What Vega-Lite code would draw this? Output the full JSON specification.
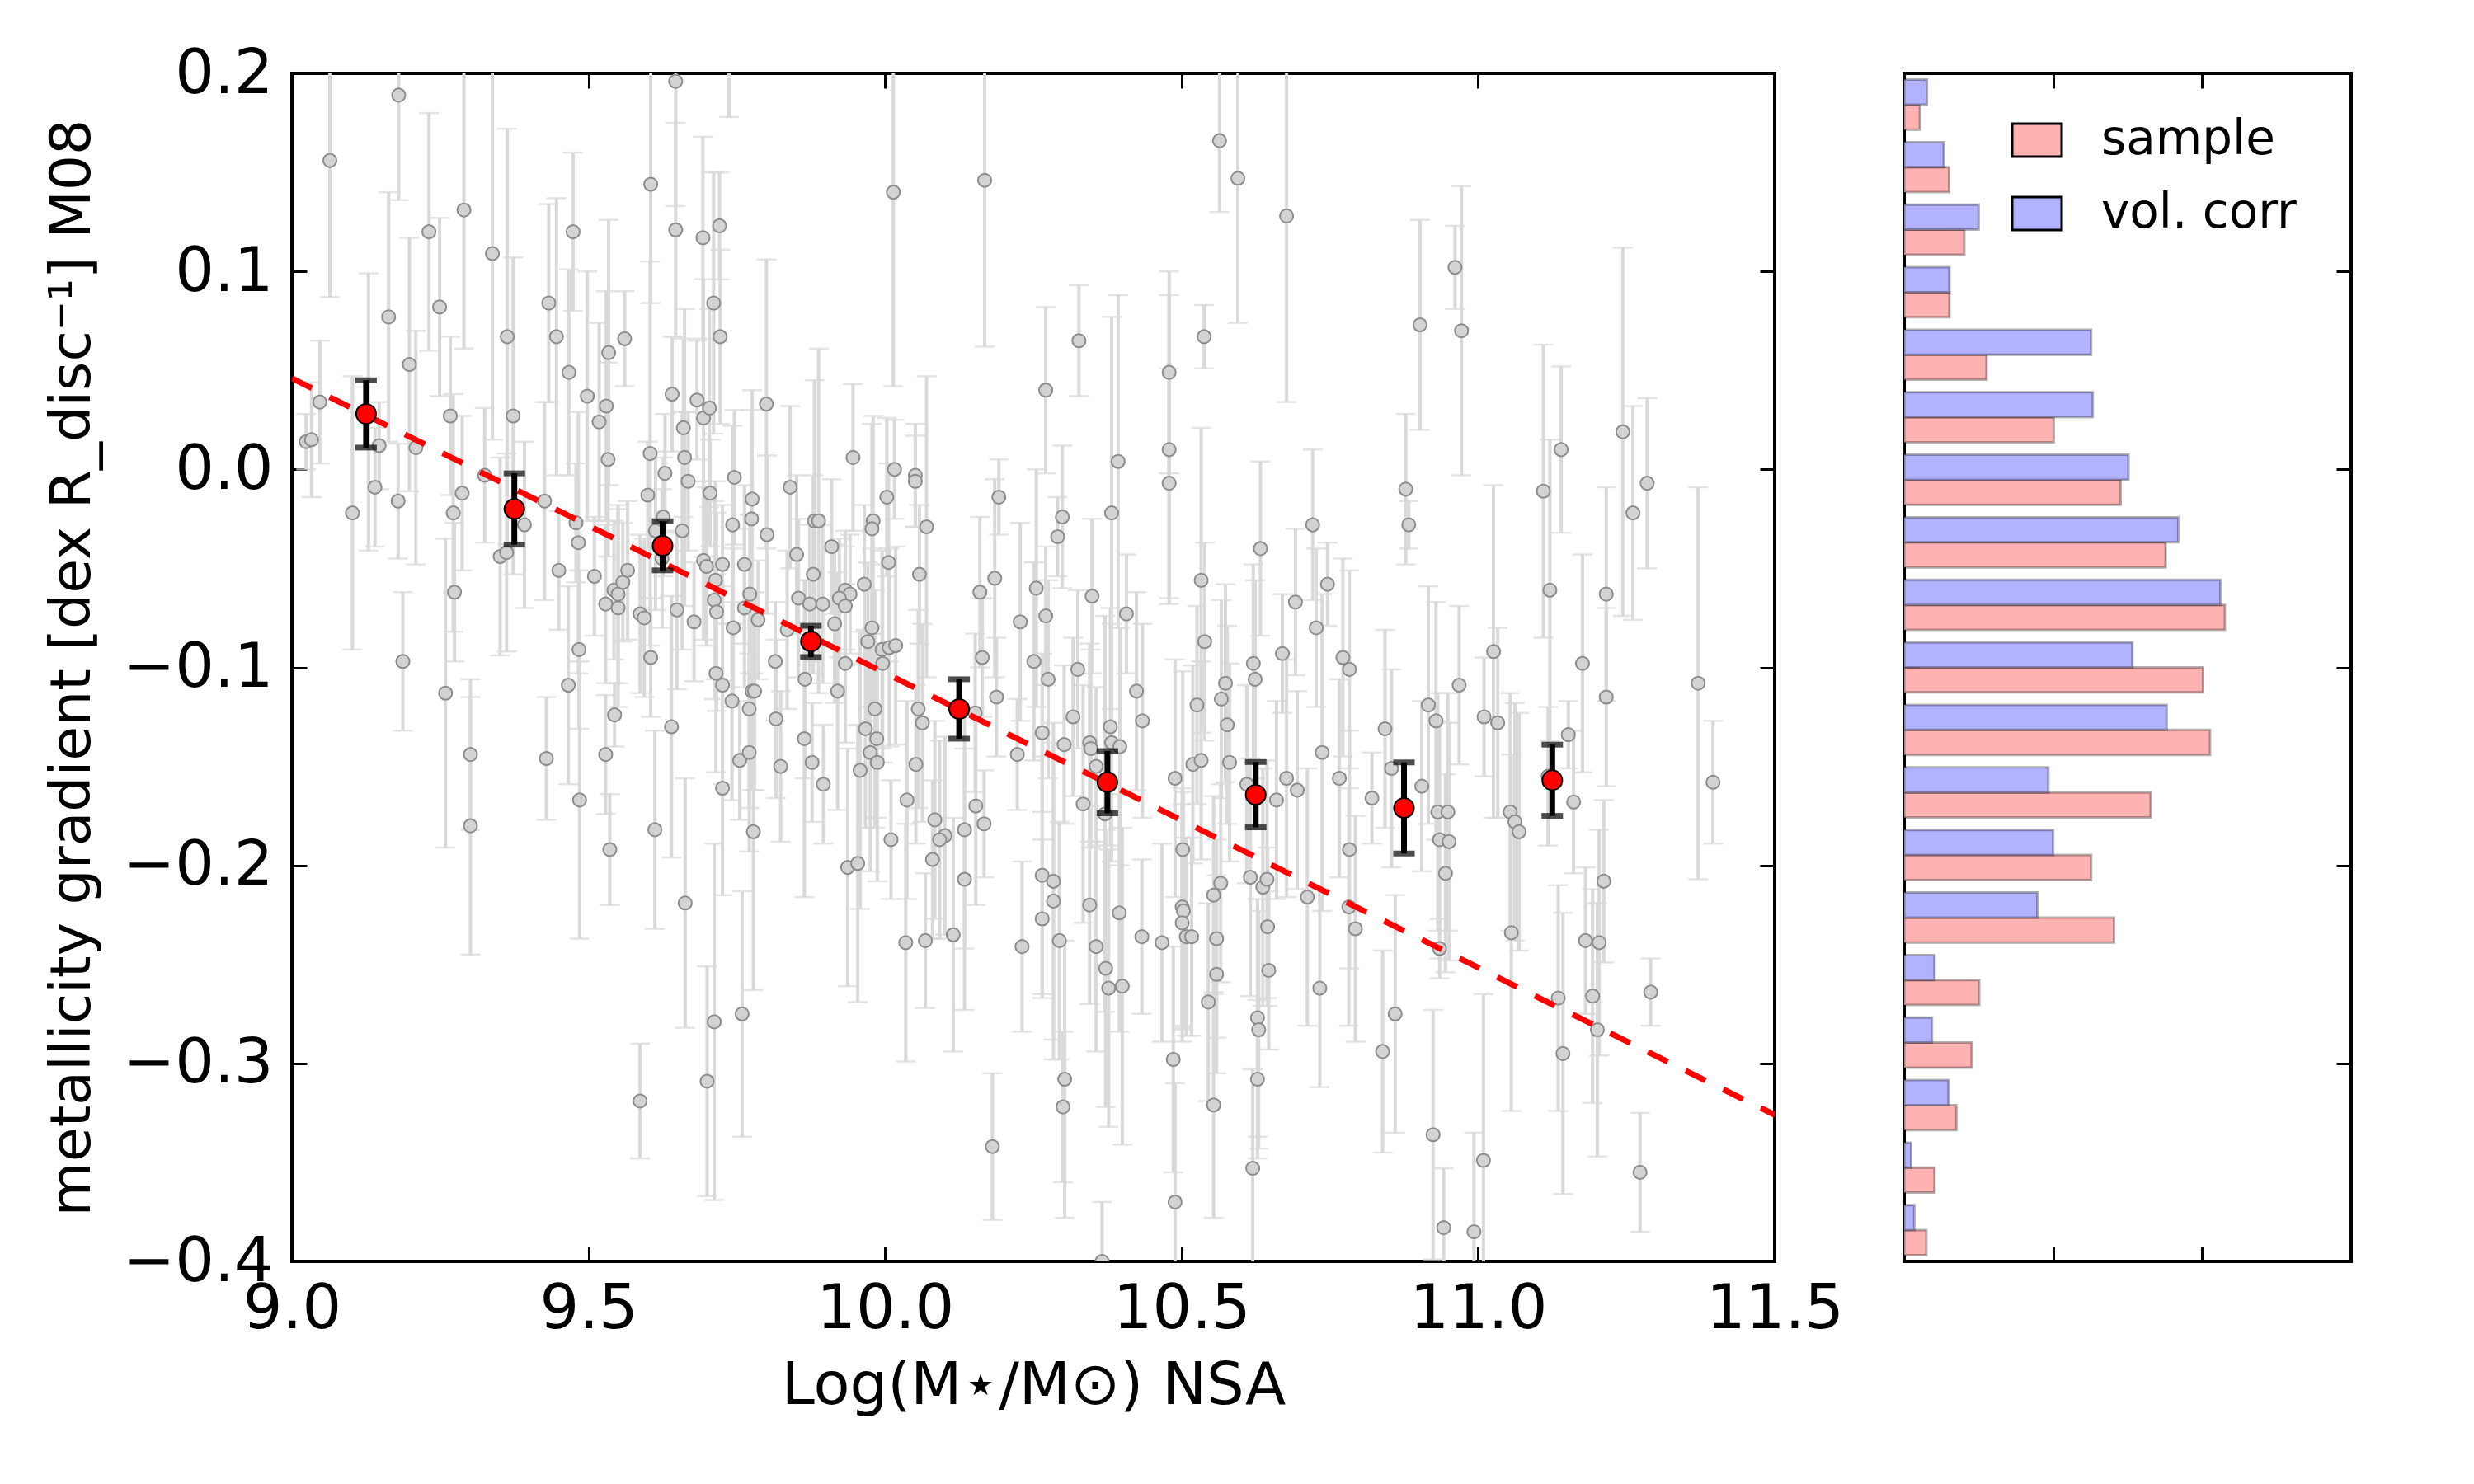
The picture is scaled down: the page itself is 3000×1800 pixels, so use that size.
{
  "$schema": "https://vega.github.io/schema/vega-lite/v6.json",
  "background": "white",
  "padding": {"left": 52, "top": 50, "right": 0, "bottom": 0},
  "spacing": 157,
  "bounds": "flush",
  "datasets": {
    "galaxies": [
      {"mass": 9.064, "gradient": 0.156, "err": 0.069},
      {"mass": 9.180, "gradient": 0.189, "err": 0.053},
      {"mass": 9.290, "gradient": 0.131, "err": 0.070},
      {"mass": 9.231, "gradient": 0.120, "err": 0.060},
      {"mass": 9.338, "gradient": 0.109, "err": 0.094},
      {"mass": 9.249, "gradient": 0.082, "err": 0.045},
      {"mass": 9.163, "gradient": 0.077, "err": 0.063},
      {"mass": 9.047, "gradient": 0.034, "err": 0.031},
      {"mass": 9.024, "gradient": 0.014, "err": 0.014},
      {"mass": 9.033, "gradient": 0.015, "err": 0.029},
      {"mass": 9.147, "gradient": 0.012, "err": 0.022},
      {"mass": 9.198, "gradient": 0.053, "err": 0.064},
      {"mass": 9.209, "gradient": 0.011, "err": 0.059},
      {"mass": 9.140, "gradient": -0.009, "err": 0.030},
      {"mass": 9.102, "gradient": -0.022, "err": 0.069},
      {"mass": 9.179, "gradient": -0.016, "err": 0.029},
      {"mass": 9.129, "gradient": 0.029, "err": 0.070},
      {"mass": 9.267, "gradient": 0.027, "err": 0.040},
      {"mass": 9.287, "gradient": -0.012, "err": 0.039},
      {"mass": 9.272, "gradient": -0.022, "err": 0.060},
      {"mass": 9.274, "gradient": -0.062, "err": 0.035},
      {"mass": 9.187, "gradient": -0.097, "err": 0.035},
      {"mass": 9.325, "gradient": -0.003, "err": 0.034},
      {"mass": 9.363, "gradient": 0.067, "err": 0.105},
      {"mass": 9.373, "gradient": 0.027, "err": 0.080},
      {"mass": 9.351, "gradient": -0.044, "err": 0.050},
      {"mass": 9.362, "gradient": -0.042, "err": 0.050},
      {"mass": 9.392, "gradient": -0.028, "err": 0.042},
      {"mass": 9.433, "gradient": 0.084, "err": 0.050},
      {"mass": 9.446, "gradient": 0.067, "err": 0.070},
      {"mass": 9.474, "gradient": 0.120, "err": 0.040},
      {"mass": 9.467, "gradient": 0.049, "err": 0.052},
      {"mass": 9.426, "gradient": -0.016, "err": 0.050},
      {"mass": 9.498, "gradient": 0.037, "err": 0.063},
      {"mass": 9.518, "gradient": 0.024, "err": 0.050},
      {"mass": 9.530, "gradient": 0.032, "err": 0.058},
      {"mass": 9.534, "gradient": 0.059, "err": 0.067},
      {"mass": 9.533, "gradient": 0.005, "err": 0.049},
      {"mass": 9.561, "gradient": 0.066, "err": 0.024},
      {"mass": 9.479, "gradient": -0.027, "err": 0.030},
      {"mass": 9.483, "gradient": -0.037, "err": 0.066},
      {"mass": 9.450, "gradient": -0.051, "err": 0.030},
      {"mass": 9.484, "gradient": -0.091, "err": 0.040},
      {"mass": 9.510, "gradient": -0.054, "err": 0.030},
      {"mass": 9.529, "gradient": -0.068, "err": 0.040},
      {"mass": 9.543, "gradient": -0.061, "err": 0.035},
      {"mass": 9.550, "gradient": -0.063, "err": 0.045},
      {"mass": 9.550, "gradient": -0.070, "err": 0.050},
      {"mass": 9.558, "gradient": -0.057, "err": 0.030},
      {"mass": 9.566, "gradient": -0.051, "err": 0.035},
      {"mass": 9.587, "gradient": -0.073, "err": 0.040},
      {"mass": 9.594, "gradient": -0.075, "err": 0.040},
      {"mass": 9.605, "gradient": 0.144, "err": 0.060},
      {"mass": 9.604, "gradient": 0.008, "err": 0.097},
      {"mass": 9.647, "gradient": 0.196, "err": 0.063},
      {"mass": 9.647, "gradient": 0.121, "err": 0.054},
      {"mass": 9.641, "gradient": 0.038, "err": 0.029},
      {"mass": 9.629, "gradient": -0.002, "err": 0.030},
      {"mass": 9.600, "gradient": -0.013, "err": 0.027},
      {"mass": 9.626, "gradient": -0.024, "err": 0.030},
      {"mass": 9.613, "gradient": -0.031, "err": 0.040},
      {"mass": 9.624, "gradient": -0.045, "err": 0.035},
      {"mass": 9.605, "gradient": -0.095, "err": 0.030},
      {"mass": 9.649, "gradient": -0.071, "err": 0.040},
      {"mass": 9.658, "gradient": -0.031, "err": 0.060},
      {"mass": 9.662, "gradient": 0.006, "err": 0.075},
      {"mass": 9.660, "gradient": 0.021, "err": 0.045},
      {"mass": 9.668, "gradient": -0.006, "err": 0.035},
      {"mass": 9.678, "gradient": -0.077, "err": 0.030},
      {"mass": 9.693, "gradient": 0.117, "err": 0.051},
      {"mass": 9.683, "gradient": 0.035, "err": 0.030},
      {"mass": 9.694, "gradient": 0.026, "err": 0.070},
      {"mass": 9.704, "gradient": 0.031, "err": 0.050},
      {"mass": 9.711, "gradient": 0.084, "err": 0.066},
      {"mass": 9.721, "gradient": 0.123, "err": 0.027},
      {"mass": 9.722, "gradient": 0.067, "err": 0.044},
      {"mass": 9.737, "gradient": 0.243, "err": 0.065},
      {"mass": 9.705, "gradient": -0.012, "err": 0.027},
      {"mass": 9.694, "gradient": -0.046, "err": 0.040},
      {"mass": 9.699, "gradient": -0.049, "err": 0.040},
      {"mass": 9.714, "gradient": -0.056, "err": 0.050},
      {"mass": 9.712, "gradient": -0.066, "err": 0.050},
      {"mass": 9.716, "gradient": -0.072, "err": 0.050},
      {"mass": 9.726, "gradient": -0.048, "err": 0.030},
      {"mass": 9.746, "gradient": -0.004, "err": 0.034},
      {"mass": 9.743, "gradient": -0.028, "err": 0.050},
      {"mass": 9.744, "gradient": -0.080, "err": 0.040},
      {"mass": 9.763, "gradient": -0.048, "err": 0.040},
      {"mass": 9.763, "gradient": -0.070, "err": 0.040},
      {"mass": 9.772, "gradient": -0.063, "err": 0.040},
      {"mass": 9.776, "gradient": -0.015, "err": 0.055},
      {"mass": 9.775, "gradient": -0.025, "err": 0.055},
      {"mass": 9.786, "gradient": -0.076, "err": 0.030},
      {"mass": 9.800, "gradient": 0.033, "err": 0.073},
      {"mass": 9.801, "gradient": -0.033, "err": 0.040},
      {"mass": 9.815, "gradient": -0.097, "err": 0.030},
      {"mass": 10.014, "gradient": 0.140, "err": 0.098},
      {"mass": 10.168, "gradient": 0.146, "err": 0.084},
      {"mass": 10.564, "gradient": 0.166, "err": 0.036},
      {"mass": 10.595, "gradient": 0.147, "err": 0.073},
      {"mass": 10.327, "gradient": 0.065, "err": 0.028},
      {"mass": 10.271, "gradient": 0.040, "err": 0.042},
      {"mass": 10.479, "gradient": 0.049, "err": 0.051},
      {"mass": 10.479, "gradient": 0.010, "err": 0.078},
      {"mass": 10.479, "gradient": -0.007, "err": 0.058},
      {"mass": 10.538, "gradient": 0.067, "err": 0.016},
      {"mass": 10.393, "gradient": 0.004, "err": 0.084},
      {"mass": 10.382, "gradient": -0.022, "err": 0.099},
      {"mass": 9.946, "gradient": 0.006, "err": 0.037},
      {"mass": 9.840, "gradient": -0.009, "err": 0.041},
      {"mass": 10.016, "gradient": 0.000, "err": 0.025},
      {"mass": 10.051, "gradient": -0.003, "err": 0.026},
      {"mass": 10.051, "gradient": -0.006, "err": 0.023},
      {"mass": 10.003, "gradient": -0.014, "err": 0.040},
      {"mass": 10.070, "gradient": -0.029, "err": 0.076},
      {"mass": 9.980, "gradient": -0.026, "err": 0.053},
      {"mass": 9.978, "gradient": -0.030, "err": 0.053},
      {"mass": 9.881, "gradient": -0.026, "err": 0.071},
      {"mass": 9.888, "gradient": -0.026, "err": 0.087},
      {"mass": 9.910, "gradient": -0.039, "err": 0.034},
      {"mass": 9.851, "gradient": -0.043, "err": 0.040},
      {"mass": 9.879, "gradient": -0.053, "err": 0.050},
      {"mass": 9.854, "gradient": -0.065, "err": 0.040},
      {"mass": 9.873, "gradient": -0.068, "err": 0.040},
      {"mass": 9.895, "gradient": -0.068, "err": 0.040},
      {"mass": 9.933, "gradient": -0.061, "err": 0.030},
      {"mass": 9.941, "gradient": -0.063, "err": 0.030},
      {"mass": 9.923, "gradient": -0.065, "err": 0.030},
      {"mass": 9.933, "gradient": -0.069, "err": 0.030},
      {"mass": 9.965, "gradient": -0.058, "err": 0.040},
      {"mass": 10.006, "gradient": -0.047, "err": 0.050},
      {"mass": 10.058, "gradient": -0.053, "err": 0.035},
      {"mass": 9.915, "gradient": -0.078, "err": 0.040},
      {"mass": 9.978, "gradient": -0.080, "err": 0.040},
      {"mass": 9.971, "gradient": -0.087, "err": 0.040},
      {"mass": 9.995, "gradient": -0.091, "err": 0.050},
      {"mass": 10.007, "gradient": -0.090, "err": 0.050},
      {"mass": 10.018, "gradient": -0.089, "err": 0.050},
      {"mass": 9.996, "gradient": -0.098, "err": 0.050},
      {"mass": 9.933, "gradient": -0.098, "err": 0.040},
      {"mass": 9.835, "gradient": -0.081, "err": 0.040},
      {"mass": 10.192, "gradient": -0.014, "err": 0.019},
      {"mass": 10.185, "gradient": -0.055, "err": 0.050},
      {"mass": 10.160, "gradient": -0.062, "err": 0.038},
      {"mass": 10.164, "gradient": -0.095, "err": 0.030},
      {"mass": 10.299, "gradient": -0.024, "err": 0.036},
      {"mass": 10.291, "gradient": -0.034, "err": 0.020},
      {"mass": 10.255, "gradient": -0.060, "err": 0.060},
      {"mass": 10.271, "gradient": -0.074, "err": 0.035},
      {"mass": 10.228, "gradient": -0.077, "err": 0.050},
      {"mass": 10.349, "gradient": -0.064, "err": 0.039},
      {"mass": 10.407, "gradient": -0.073, "err": 0.030},
      {"mass": 10.251, "gradient": -0.097, "err": 0.050},
      {"mass": 10.325, "gradient": -0.101, "err": 0.040},
      {"mass": 10.533, "gradient": -0.056, "err": 0.077},
      {"mass": 10.539, "gradient": -0.087, "err": 0.050},
      {"mass": 10.633, "gradient": -0.040, "err": 0.044},
      {"mass": 10.621, "gradient": -0.098, "err": 0.050},
      {"mass": 10.677, "gradient": 0.128, "err": 0.094},
      {"mass": 10.961, "gradient": 0.102, "err": 0.021},
      {"mass": 10.972, "gradient": 0.070, "err": 0.073},
      {"mass": 10.902, "gradient": 0.073, "err": 0.053},
      {"mass": 10.878, "gradient": -0.010, "err": 0.038},
      {"mass": 10.883, "gradient": -0.028, "err": 0.012},
      {"mass": 11.110, "gradient": -0.011, "err": 0.074},
      {"mass": 11.140, "gradient": 0.010, "err": 0.042},
      {"mass": 11.121, "gradient": -0.061, "err": 0.076},
      {"mass": 11.244, "gradient": 0.019, "err": 0.093},
      {"mass": 11.261, "gradient": -0.022, "err": 0.054},
      {"mass": 11.285, "gradient": -0.007, "err": 0.043},
      {"mass": 11.216, "gradient": -0.063, "err": 0.054},
      {"mass": 10.721, "gradient": -0.028, "err": 0.038},
      {"mass": 10.692, "gradient": -0.067, "err": 0.037},
      {"mass": 10.746, "gradient": -0.058, "err": 0.021},
      {"mass": 10.727, "gradient": -0.080, "err": 0.040},
      {"mass": 10.670, "gradient": -0.093, "err": 0.030},
      {"mass": 10.772, "gradient": -0.095, "err": 0.050},
      {"mass": 10.783, "gradient": -0.101, "err": 0.050},
      {"mass": 11.026, "gradient": -0.092, "err": 0.084},
      {"mass": 11.176, "gradient": -0.098, "err": 0.055},
      {"mass": 9.259, "gradient": -0.113, "err": 0.078},
      {"mass": 9.301, "gradient": -0.144, "err": 0.038},
      {"mass": 9.301, "gradient": -0.180, "err": 0.065},
      {"mass": 9.429, "gradient": -0.146, "err": 0.031},
      {"mass": 9.466, "gradient": -0.109, "err": 0.050},
      {"mass": 9.485, "gradient": -0.167, "err": 0.070},
      {"mass": 9.529, "gradient": -0.144, "err": 0.030},
      {"mass": 9.544, "gradient": -0.124, "err": 0.016},
      {"mass": 9.536, "gradient": -0.192, "err": 0.028},
      {"mass": 9.612, "gradient": -0.182, "err": 0.050},
      {"mass": 9.640, "gradient": -0.130, "err": 0.066},
      {"mass": 9.663, "gradient": -0.219, "err": 0.063},
      {"mass": 9.587, "gradient": -0.319, "err": 0.029},
      {"mass": 9.700, "gradient": -0.309, "err": 0.058},
      {"mass": 9.712, "gradient": -0.279, "err": 0.090},
      {"mass": 9.759, "gradient": -0.275, "err": 0.062},
      {"mass": 9.726, "gradient": -0.161, "err": 0.054},
      {"mass": 9.715, "gradient": -0.103, "err": 0.050},
      {"mass": 9.726, "gradient": -0.109, "err": 0.050},
      {"mass": 9.742, "gradient": -0.117, "err": 0.050},
      {"mass": 9.755, "gradient": -0.147, "err": 0.030},
      {"mass": 9.771, "gradient": -0.121, "err": 0.050},
      {"mass": 9.771, "gradient": -0.143, "err": 0.050},
      {"mass": 9.776, "gradient": -0.112, "err": 0.050},
      {"mass": 9.780, "gradient": -0.112, "err": 0.050},
      {"mass": 9.778, "gradient": -0.183, "err": 0.080},
      {"mass": 9.816, "gradient": -0.126, "err": 0.040},
      {"mass": 9.824, "gradient": -0.150, "err": 0.038},
      {"mass": 9.865, "gradient": -0.106, "err": 0.050},
      {"mass": 9.920, "gradient": -0.112, "err": 0.060},
      {"mass": 9.983, "gradient": -0.121, "err": 0.060},
      {"mass": 9.967, "gradient": -0.131, "err": 0.050},
      {"mass": 9.986, "gradient": -0.136, "err": 0.040},
      {"mass": 9.975, "gradient": -0.143, "err": 0.060},
      {"mass": 9.987, "gradient": -0.148, "err": 0.060},
      {"mass": 9.958, "gradient": -0.152, "err": 0.070},
      {"mass": 9.864, "gradient": -0.136, "err": 0.080},
      {"mass": 9.877, "gradient": -0.148, "err": 0.030},
      {"mass": 9.896, "gradient": -0.159, "err": 0.030},
      {"mass": 9.937, "gradient": -0.201, "err": 0.060},
      {"mass": 9.954, "gradient": -0.199, "err": 0.070},
      {"mass": 10.010, "gradient": -0.187, "err": 0.030},
      {"mass": 10.037, "gradient": -0.167, "err": 0.050},
      {"mass": 10.035, "gradient": -0.239, "err": 0.060},
      {"mass": 10.068, "gradient": -0.238, "err": 0.034},
      {"mass": 10.115, "gradient": -0.235, "err": 0.059},
      {"mass": 10.084, "gradient": -0.177, "err": 0.050},
      {"mass": 10.101, "gradient": -0.185, "err": 0.050},
      {"mass": 10.092, "gradient": -0.187, "err": 0.050},
      {"mass": 10.080, "gradient": -0.197, "err": 0.040},
      {"mass": 10.056, "gradient": -0.121, "err": 0.050},
      {"mass": 10.063, "gradient": -0.128, "err": 0.050},
      {"mass": 10.052, "gradient": -0.149, "err": 0.040},
      {"mass": 10.153, "gradient": -0.170, "err": 0.050},
      {"mass": 10.167, "gradient": -0.179, "err": 0.027},
      {"mass": 10.134, "gradient": -0.182, "err": 0.060},
      {"mass": 10.134, "gradient": -0.207, "err": 0.066},
      {"mass": 10.152, "gradient": -0.123, "err": 0.040},
      {"mass": 10.188, "gradient": -0.115, "err": 0.030},
      {"mass": 10.181, "gradient": -0.342, "err": 0.037},
      {"mass": 10.223, "gradient": -0.144, "err": 0.028},
      {"mass": 10.231, "gradient": -0.241, "err": 0.043},
      {"mass": 10.275, "gradient": -0.106, "err": 0.050},
      {"mass": 10.265, "gradient": -0.133, "err": 0.040},
      {"mass": 10.302, "gradient": -0.139, "err": 0.040},
      {"mass": 10.317, "gradient": -0.125, "err": 0.040},
      {"mass": 10.265, "gradient": -0.205, "err": 0.060},
      {"mass": 10.284, "gradient": -0.208, "err": 0.080},
      {"mass": 10.284, "gradient": -0.218, "err": 0.080},
      {"mass": 10.265, "gradient": -0.227, "err": 0.040},
      {"mass": 10.294, "gradient": -0.238, "err": 0.060},
      {"mass": 10.303, "gradient": -0.308, "err": 0.070},
      {"mass": 10.300, "gradient": -0.322, "err": 0.038},
      {"mass": 10.345, "gradient": -0.138, "err": 0.050},
      {"mass": 10.347, "gradient": -0.141, "err": 0.050},
      {"mass": 10.356, "gradient": -0.150, "err": 0.040},
      {"mass": 10.380, "gradient": -0.130, "err": 0.060},
      {"mass": 10.382, "gradient": -0.138, "err": 0.060},
      {"mass": 10.396, "gradient": -0.140, "err": 0.060},
      {"mass": 10.334, "gradient": -0.169, "err": 0.060},
      {"mass": 10.371, "gradient": -0.174, "err": 0.100},
      {"mass": 10.345, "gradient": -0.220, "err": 0.050},
      {"mass": 10.356, "gradient": -0.241, "err": 0.053},
      {"mass": 10.372, "gradient": -0.252, "err": 0.070},
      {"mass": 10.377, "gradient": -0.262, "err": 0.070},
      {"mass": 10.400, "gradient": -0.261, "err": 0.080},
      {"mass": 10.395, "gradient": -0.224, "err": 0.060},
      {"mass": 10.366, "gradient": -0.400, "err": 0.030},
      {"mass": 10.424, "gradient": -0.112, "err": 0.050},
      {"mass": 10.434, "gradient": -0.127, "err": 0.049},
      {"mass": 10.433, "gradient": -0.236, "err": 0.039},
      {"mass": 10.467, "gradient": -0.239, "err": 0.050},
      {"mass": 10.489, "gradient": -0.156, "err": 0.060},
      {"mass": 10.502, "gradient": -0.192, "err": 0.090},
      {"mass": 10.501, "gradient": -0.221, "err": 0.060},
      {"mass": 10.503, "gradient": -0.223, "err": 0.060},
      {"mass": 10.501, "gradient": -0.229, "err": 0.060},
      {"mass": 10.508, "gradient": -0.236, "err": 0.050},
      {"mass": 10.517, "gradient": -0.236, "err": 0.050},
      {"mass": 10.486, "gradient": -0.298, "err": 0.057},
      {"mass": 10.489, "gradient": -0.370, "err": 0.060},
      {"mass": 10.526, "gradient": -0.119, "err": 0.050},
      {"mass": 10.519, "gradient": -0.149, "err": 0.050},
      {"mass": 10.533, "gradient": -0.147, "err": 0.050},
      {"mass": 10.567, "gradient": -0.116, "err": 0.050},
      {"mass": 10.574, "gradient": -0.108, "err": 0.050},
      {"mass": 10.577, "gradient": -0.129, "err": 0.050},
      {"mass": 10.581, "gradient": -0.148, "err": 0.050},
      {"mass": 10.566, "gradient": -0.209, "err": 0.050},
      {"mass": 10.554, "gradient": -0.215, "err": 0.050},
      {"mass": 10.559, "gradient": -0.237, "err": 0.050},
      {"mass": 10.559, "gradient": -0.255, "err": 0.050},
      {"mass": 10.545, "gradient": -0.269, "err": 0.050},
      {"mass": 10.554, "gradient": -0.321, "err": 0.057},
      {"mass": 10.624, "gradient": -0.106, "err": 0.050},
      {"mass": 10.610, "gradient": -0.159, "err": 0.050},
      {"mass": 10.616, "gradient": -0.206, "err": 0.060},
      {"mass": 10.637, "gradient": -0.211, "err": 0.060},
      {"mass": 10.644, "gradient": -0.207, "err": 0.060},
      {"mass": 10.645, "gradient": -0.231, "err": 0.040},
      {"mass": 10.647, "gradient": -0.253, "err": 0.040},
      {"mass": 10.628, "gradient": -0.277, "err": 0.060},
      {"mass": 10.630, "gradient": -0.283, "err": 0.060},
      {"mass": 10.628, "gradient": -0.308, "err": 0.040},
      {"mass": 10.620, "gradient": -0.353, "err": 0.050},
      {"mass": 10.968, "gradient": -0.109, "err": 0.040},
      {"mass": 10.916, "gradient": -0.119, "err": 0.060},
      {"mass": 10.929, "gradient": -0.127, "err": 0.060},
      {"mass": 10.843, "gradient": -0.131, "err": 0.050},
      {"mass": 10.854, "gradient": -0.151, "err": 0.050},
      {"mass": 10.737, "gradient": -0.143, "err": 0.080},
      {"mass": 10.677, "gradient": -0.156, "err": 0.060},
      {"mass": 10.660, "gradient": -0.167, "err": 0.050},
      {"mass": 10.695, "gradient": -0.162, "err": 0.050},
      {"mass": 10.766, "gradient": -0.156, "err": 0.050},
      {"mass": 10.821, "gradient": -0.166, "err": 0.023},
      {"mass": 10.783, "gradient": -0.192, "err": 0.060},
      {"mass": 10.712, "gradient": -0.216, "err": 0.065},
      {"mass": 10.782, "gradient": -0.221, "err": 0.060},
      {"mass": 10.793, "gradient": -0.232, "err": 0.057},
      {"mass": 10.733, "gradient": -0.262, "err": 0.050},
      {"mass": 10.905, "gradient": -0.160, "err": 0.043},
      {"mass": 10.932, "gradient": -0.173, "err": 0.060},
      {"mass": 10.949, "gradient": -0.173, "err": 0.060},
      {"mass": 10.935, "gradient": -0.187, "err": 0.060},
      {"mass": 10.951, "gradient": -0.188, "err": 0.060},
      {"mass": 10.945, "gradient": -0.204, "err": 0.050},
      {"mass": 10.935, "gradient": -0.242, "err": 0.015},
      {"mass": 10.860, "gradient": -0.275, "err": 0.060},
      {"mass": 10.839, "gradient": -0.294, "err": 0.051},
      {"mass": 10.924, "gradient": -0.336, "err": 0.063},
      {"mass": 10.942, "gradient": -0.383, "err": 0.030},
      {"mass": 10.993, "gradient": -0.385, "err": 0.050},
      {"mass": 11.009, "gradient": -0.349, "err": 0.084},
      {"mass": 11.010, "gradient": -0.125, "err": 0.030},
      {"mass": 11.033, "gradient": -0.128, "err": 0.048},
      {"mass": 11.054, "gradient": -0.173, "err": 0.060},
      {"mass": 11.062, "gradient": -0.178, "err": 0.060},
      {"mass": 11.069, "gradient": -0.183, "err": 0.060},
      {"mass": 11.056, "gradient": -0.234, "err": 0.090},
      {"mass": 11.118, "gradient": -0.155, "err": 0.035},
      {"mass": 11.152, "gradient": -0.134, "err": 0.017},
      {"mass": 11.216, "gradient": -0.115, "err": 0.045},
      {"mass": 11.161, "gradient": -0.168, "err": 0.036},
      {"mass": 11.212, "gradient": -0.208, "err": 0.041},
      {"mass": 11.181, "gradient": -0.238, "err": 0.037},
      {"mass": 11.204, "gradient": -0.239, "err": 0.057},
      {"mass": 11.135, "gradient": -0.267, "err": 0.057},
      {"mass": 11.143, "gradient": -0.295, "err": 0.071},
      {"mass": 11.193, "gradient": -0.266, "err": 0.054},
      {"mass": 11.201, "gradient": -0.283, "err": 0.064},
      {"mass": 11.291, "gradient": -0.264, "err": 0.017},
      {"mass": 11.273, "gradient": -0.355, "err": 0.030},
      {"mass": 11.371, "gradient": -0.108, "err": 0.099},
      {"mass": 11.396, "gradient": -0.158, "err": 0.031}
    ],
    "binned": [
      {"mass": 9.125, "gradient": 0.028, "err": 0.017},
      {"mass": 9.375, "gradient": -0.020, "err": 0.018},
      {"mass": 9.625, "gradient": -0.0386, "err": 0.0124},
      {"mass": 9.875, "gradient": -0.0869, "err": 0.0079},
      {"mass": 10.125, "gradient": -0.121, "err": 0.015},
      {"mass": 10.375, "gradient": -0.158, "err": 0.0157},
      {"mass": 10.625, "gradient": -0.1643, "err": 0.0165},
      {"mass": 10.875, "gradient": -0.171, "err": 0.023},
      {"mass": 11.125, "gradient": -0.157, "err": 0.018}
    ],
    "fit": [
      {"mass": 9.0, "gradient": 0.046},
      {"mass": 11.5, "gradient": -0.326}
    ],
    "hist": [
      {"bin_start": -0.4, "bin_end": -0.36842, "series": "sample", "density": 0.149},
      {"bin_start": -0.36842, "bin_end": -0.33684, "series": "sample", "density": 0.204},
      {"bin_start": -0.33684, "bin_end": -0.30526, "series": "sample", "density": 0.351},
      {"bin_start": -0.30526, "bin_end": -0.27368, "series": "sample", "density": 0.453},
      {"bin_start": -0.27368, "bin_end": -0.24211, "series": "sample", "density": 0.504},
      {"bin_start": -0.24211, "bin_end": -0.21053, "series": "sample", "density": 1.409},
      {"bin_start": -0.21053, "bin_end": -0.17895, "series": "sample", "density": 1.255},
      {"bin_start": -0.17895, "bin_end": -0.14737, "series": "sample", "density": 1.655},
      {"bin_start": -0.14737, "bin_end": -0.11579, "series": "sample", "density": 2.053},
      {"bin_start": -0.11579, "bin_end": -0.08421, "series": "sample", "density": 2.006},
      {"bin_start": -0.08421, "bin_end": -0.05263, "series": "sample", "density": 2.153},
      {"bin_start": -0.05263, "bin_end": -0.02105, "series": "sample", "density": 1.755},
      {"bin_start": -0.02105, "bin_end": 0.01053, "series": "sample", "density": 1.453},
      {"bin_start": 0.01053, "bin_end": 0.04211, "series": "sample", "density": 1.004},
      {"bin_start": 0.04211, "bin_end": 0.07368, "series": "sample", "density": 0.553},
      {"bin_start": 0.07368, "bin_end": 0.10526, "series": "sample", "density": 0.304},
      {"bin_start": 0.10526, "bin_end": 0.13684, "series": "sample", "density": 0.404},
      {"bin_start": 0.13684, "bin_end": 0.16842, "series": "sample", "density": 0.302},
      {"bin_start": 0.16842, "bin_end": 0.2, "series": "sample", "density": 0.106},
      {"bin_start": -0.4, "bin_end": -0.36842, "series": "vol. corr", "density": 0.068},
      {"bin_start": -0.36842, "bin_end": -0.33684, "series": "vol. corr", "density": 0.047},
      {"bin_start": -0.33684, "bin_end": -0.30526, "series": "vol. corr", "density": 0.298},
      {"bin_start": -0.30526, "bin_end": -0.27368, "series": "vol. corr", "density": 0.187},
      {"bin_start": -0.27368, "bin_end": -0.24211, "series": "vol. corr", "density": 0.204},
      {"bin_start": -0.24211, "bin_end": -0.21053, "series": "vol. corr", "density": 0.894},
      {"bin_start": -0.21053, "bin_end": -0.17895, "series": "vol. corr", "density": 1.0},
      {"bin_start": -0.17895, "bin_end": -0.14737, "series": "vol. corr", "density": 0.968},
      {"bin_start": -0.14737, "bin_end": -0.11579, "series": "vol. corr", "density": 1.762},
      {"bin_start": -0.11579, "bin_end": -0.08421, "series": "vol. corr", "density": 1.532},
      {"bin_start": -0.08421, "bin_end": -0.05263, "series": "vol. corr", "density": 2.123},
      {"bin_start": -0.05263, "bin_end": -0.02105, "series": "vol. corr", "density": 1.84},
      {"bin_start": -0.02105, "bin_end": 0.01053, "series": "vol. corr", "density": 1.506},
      {"bin_start": 0.01053, "bin_end": 0.04211, "series": "vol. corr", "density": 1.266},
      {"bin_start": 0.04211, "bin_end": 0.07368, "series": "vol. corr", "density": 1.255},
      {"bin_start": 0.07368, "bin_end": 0.10526, "series": "vol. corr", "density": 0.304},
      {"bin_start": 0.10526, "bin_end": 0.13684, "series": "vol. corr", "density": 0.5},
      {"bin_start": 0.13684, "bin_end": 0.16842, "series": "vol. corr", "density": 0.266},
      {"bin_start": 0.16842, "bin_end": 0.2, "series": "vol. corr", "density": 0.153}
    ]
  },
  "hconcat": [
    {
      "width": 1798,
      "height": 1441,
      "layer": [
        {
          "data": {"name": "galaxies"},
          "mark": {"type": "errorbar", "clip": true, "color": "#d9d9d9",
                   "rule": {"strokeWidth": 4},
                   "ticks": {"size": 24, "thickness": 2.5}},
          "encoding": {
            "x": {"field": "mass", "type": "quantitative",
                  "scale": {"domain": [9, 11.5], "nice": false, "zero": false},
                  "axis": {"orient": "bottom", "values": [9, 9.5, 10, 10.5, 11, 11.5], "format": ".1f",
                           "labelPadding": 39, "title": "Log(M⋆/M⊙) NSA", "titlePadding": 20}},
            "y": {"field": "gradient", "type": "quantitative",
                  "scale": {"domain": [-0.4, 0.2], "nice": false, "zero": false},
                  "axis": {"orient": "left", "values": [-0.4, -0.3, -0.2, -0.1, 0, 0.1, 0.2], "format": ".1f",
                           "labelPadding": 41, "title": "metallicity gradient [dex R_disc⁻¹] M08",
                           "titleFontSize": 68, "titlePadding": 32}},
            "yError": {"field": "err"}
          }
        },
        {
          "data": {"name": "galaxies"},
          "mark": {"type": "point", "filled": true, "clip": true, "size": 260, "opacity": 1,
                   "fill": "#d3d3d3", "stroke": "#8c8c8c", "strokeWidth": 2},
          "encoding": {
            "x": {"field": "mass", "type": "quantitative", "scale": {"domain": [9, 11.5], "nice": false, "zero": false}, "axis": null},
            "y": {"field": "gradient", "type": "quantitative", "scale": {"domain": [-0.4, 0.2], "nice": false, "zero": false}, "axis": null}
          }
        },
        {
          "data": {"name": "fit"},
          "mark": {"type": "line", "clip": true, "color": "#ff0000", "strokeWidth": 7, "strokeDash": [27, 24]},
          "encoding": {
            "x": {"field": "mass", "type": "quantitative", "scale": {"domain": [9, 11.5], "nice": false, "zero": false},
                  "axis": {"orient": "top", "values": [9, 9.5, 10, 10.5, 11, 11.5], "labels": false, "title": null}},
            "y": {"field": "gradient", "type": "quantitative", "scale": {"domain": [-0.4, 0.2], "nice": false, "zero": false},
                  "axis": {"orient": "right", "values": [-0.4, -0.3, -0.2, -0.1, 0, 0.1, 0.2], "labels": false, "title": null}}
          }
        },
        {
          "data": {"name": "binned"},
          "mark": {"type": "errorbar", "clip": true, "color": "#000000",
                   "rule": {"strokeWidth": 7},
                   "ticks": {"size": 26, "thickness": 7}},
          "encoding": {
            "x": {"field": "mass", "type": "quantitative", "scale": {"domain": [9, 11.5], "nice": false, "zero": false}, "axis": null},
            "y": {"field": "gradient", "type": "quantitative", "scale": {"domain": [-0.4, 0.2], "nice": false, "zero": false}, "axis": null},
            "yError": {"field": "err"}
          }
        },
        {
          "data": {"name": "binned"},
          "mark": {"type": "point", "filled": true, "clip": true, "size": 580, "opacity": 1,
                   "fill": "#ff0000", "stroke": "#000000", "strokeWidth": 2},
          "encoding": {
            "x": {"field": "mass", "type": "quantitative", "scale": {"domain": [9, 11.5], "nice": false, "zero": false}, "axis": null},
            "y": {"field": "gradient", "type": "quantitative", "scale": {"domain": [-0.4, 0.2], "nice": false, "zero": false}, "axis": null}
          }
        }
      ],
      "resolve": {"axis": {"x": "independent", "y": "independent"}}
    },
    {
      "width": 542,
      "height": 1441,
      "data": {"name": "hist"},
      "layer": [
        {
          "transform": [{"filter": "datum.series === 'sample'"}],
          "mark": {"type": "bar", "yOffset": -7.58, "y2Offset": 37.92, "stroke": "#000000", "strokeOpacity": 0.3, "strokeWidth": 3, "opacity": 1},
          "encoding": {
            "y": {"field": "bin_start", "type": "quantitative", "scale": {"domain": [-0.4, 0.2], "nice": false, "zero": false},
                  "axis": {"orient": "left", "values": [-0.4, -0.3, -0.2, -0.1, 0, 0.1, 0.2], "labels": false, "title": null}},
            "y2": {"field": "bin_end"},
            "x": {"field": "density", "type": "quantitative", "scale": {"domain": [0, 3], "nice": false},
                  "axis": {"orient": "bottom", "values": [1, 2], "labels": false, "title": null}},
            "x2": {"datum": 0},
            "color": {"field": "series", "type": "nominal",
                      "scale": {"domain": ["sample", "vol. corr"], "range": ["#ffb2b2", "#b2b2ff"]},
                      "legend": {"orient": "none", "legendX": 2087, "legendY": 52, "title": null,
                                 "symbolType": "M-1.5,-1H1.5V1H-1.5Z", "symbolSize": 1600,
                                 "symbolStrokeColor": "#a0a0a0", "symbolStrokeWidth": 3, "symbolOpacity": 1,
                                 "labelFontSize": 58, "labelOffset": 49, "labelLimit": 0, "rowPadding": 31, "labelColor": "#000000"}}
          }
        },
        {
          "transform": [{"filter": "datum.series === 'vol. corr'"}],
          "mark": {"type": "bar", "yOffset": -37.92, "y2Offset": 7.58, "stroke": "#000000", "strokeOpacity": 0.3, "strokeWidth": 3, "opacity": 1},
          "encoding": {
            "y": {"field": "bin_start", "type": "quantitative", "scale": {"domain": [-0.4, 0.2], "nice": false, "zero": false},
                  "axis": {"orient": "right", "values": [-0.4, -0.3, -0.2, -0.1, 0, 0.1, 0.2], "labels": false, "title": null}},
            "y2": {"field": "bin_end"},
            "x": {"field": "density", "type": "quantitative", "scale": {"domain": [0, 3], "nice": false},
                  "axis": {"orient": "top", "values": [1, 2], "labels": false, "title": null}},
            "x2": {"datum": 0},
            "color": {"field": "series", "type": "nominal",
                      "scale": {"domain": ["sample", "vol. corr"], "range": ["#ffb2b2", "#b2b2ff"]}}
          }
        }
      ],
      "resolve": {"axis": {"x": "independent", "y": "independent"}}
    }
  ],
  "config": {
    "font": "DejaVu Sans",
    "view": {"stroke": "#000000", "strokeWidth": 4},
    "axis": {
      "grid": false, "domain": false, "ticks": true,
      "tickColor": "#000000", "tickWidth": 3, "tickSize": -18,
      "labelColor": "#000000", "labelFont": "DejaVu Sans", "labelFontSize": 75, "labelLimit": 0,
      "labelFlush": false, "labelOverlap": false, "labelBound": false,
      "titleColor": "#000000", "titleFont": "DejaVu Sans", "titleFontSize": 72, "titleFontWeight": "normal", "titleLimit": 0
    },
    "legend": {"labelFont": "DejaVu Sans"}
  }
}
